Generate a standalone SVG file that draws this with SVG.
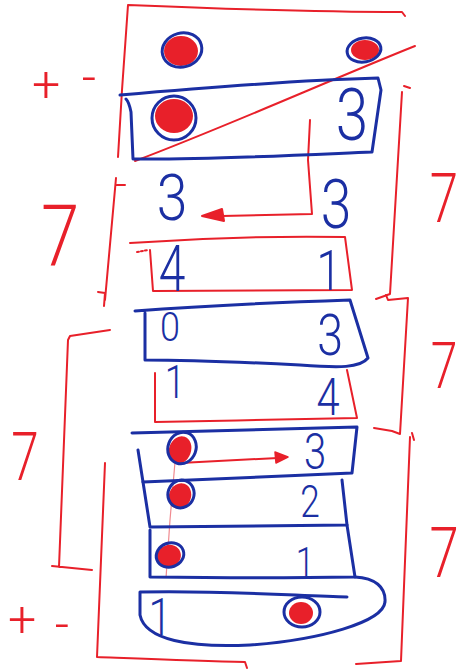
<svg xmlns="http://www.w3.org/2000/svg" width="460" height="671" viewBox="0 0 460 671">
<style>
.b{fill:none;stroke:#1b2fa3;stroke-width:3;stroke-linecap:round;stroke-linejoin:round}
.r{fill:none;stroke:#e8202a;stroke-width:2;stroke-linecap:round;stroke-linejoin:round}
.rt{fill:none;stroke:#f08a90;stroke-width:1.2}
.fill{fill:#e8202a}
.ring{fill:none;stroke:#1b2fa3;stroke-width:3}
.d{font-family:Roboto,Lato,"Open Sans","DejaVu Sans",sans-serif;font-weight:300;fill:#1b2fa3;text-anchor:middle}
.s{font-family:Roboto,Lato,"Open Sans","DejaVu Sans",sans-serif;font-weight:300;fill:#e8202a;text-anchor:middle}
</style>
<rect width="460" height="671" fill="#ffffff"/>

<g id="brackets">
<path class="r" d="M118,157 L122,90 L128,5 C200,8 300,12 402,12 L405,16"/>
<path class="r" d="M404,86 L410,88 M402,92 L390,294 L376,299"/>
<path class="r" d="M386,295 L388,300 L408,298 L400,434 L392,431 L374,428"/>
<path class="r" d="M125,185 L117,185 M116,178 L105,300 M98,292 L105,293 L104,306"/>
<path class="r" d="M110,330 L70,336 L68,340 L59,567 M52,566 L92,570"/>
<path class="r" d="M105,463 L97,657 C150,659 200,661 245,662 L247,668 M356,664 L401,661 L410,437 M412,433 L414,440"/>
<path class="r" d="M415,46 C330,80 230,125 135,161"/>
</g>

<g id="connectors">
<path class="r" d="M310,120 L308,160 L312,214 L222,216"/>
<polygon points="202,216 222,209 224,221" fill="#e8202a" stroke="#e8202a" stroke-width="2" stroke-linejoin="round"/>
<path class="r" d="M180,463 L278,458"/>
<polygon points="288,457 275,452 276,463" fill="#e8202a" stroke="#e8202a" stroke-width="1.5" stroke-linejoin="round"/>
<path class="rt" d="M175,462 L170,520 L166,578"/>
</g>

<g id="top-row">
<ellipse class="fill" cx="181" cy="51" rx="17" ry="15"/>
<ellipse class="ring" cx="182" cy="50" rx="20" ry="17" transform="rotate(-15 182 50)"/>
<ellipse class="fill" cx="365" cy="50" rx="14" ry="10"/>
<ellipse class="ring" cx="364" cy="50" rx="17" ry="12" transform="rotate(-10 364 50)"/>
</g>

<g id="row1">
<path class="b" d="M120,95 C200,88 300,80 378,78 L381,90 L372,152 C300,155 200,160 133,159 L131,112 Q129,102 126,99"/>
<ellipse class="fill" cx="174" cy="116" rx="19" ry="17"/>
<circle class="ring" cx="174" cy="118" r="22"/>
<text class="d" font-size="73" transform="translate(352,140) scale(0.8,1)">3</text>
</g>

<g id="row2">
<text class="d" font-size="65" transform="translate(172,220) scale(0.85,1)">3</text>
<text class="d" font-size="69" transform="translate(336,228) scale(0.8,1)">3</text>
</g>

<g id="row3">
<path class="r" d="M130,243 C200,238 280,236 345,237 L352,290 L153,291 L150,250"/>
<path class="r" d="M137,252 L148,250" stroke-dasharray="2 2"/>
<text class="d" font-size="64" transform="translate(172,291) scale(0.75,1)">4</text>
<text class="d" font-size="56" transform="translate(329,290) scale(0.8,1)">1</text>
</g>

<g id="row4">
<path class="b" d="M135,311 C200,306 290,302 350,300 L368,358 C360,368 340,368 300,365 C240,362 190,360 145,360 L145,313"/>
<text class="d" font-size="40" transform="translate(170,341) scale(0.9,1)">0</text>
<text class="d" font-size="58" transform="translate(330,355) scale(0.8,1)">3</text>
</g>

<g id="row5">
<path class="r" d="M155,373 L155,422 C220,421 300,419 357,418 L347,370"/>
<text class="d" font-size="46" transform="translate(175,398) scale(0.8,1)">1</text>
<text class="d" font-size="52" transform="translate(328,415) scale(0.8,1)">4</text>
</g>

<g id="row6">
<path class="b" d="M132,433 C220,430 300,428 357,427 L352,473 C280,476 200,480 143,482 L138,450"/>
<ellipse class="fill" cx="180" cy="450" rx="11" ry="14" transform="rotate(20 180 450)"/>
<ellipse class="ring" cx="182" cy="448" rx="14" ry="16" transform="rotate(20 182 448)"/>
<text class="d" font-size="50" transform="translate(315,469) scale(0.8,1)">3</text>
</g>

<g id="row7">
<path class="b" d="M143,482 L150,527 C220,526 290,525 347,525 L342,480"/>
<ellipse class="fill" cx="180" cy="496" rx="11" ry="13" transform="rotate(20 180 496)"/>
<ellipse class="ring" cx="181" cy="494" rx="13" ry="14" transform="rotate(20 181 494)"/>
<text class="d" font-size="44" transform="translate(310,517) scale(0.8,1)">2</text>
</g>

<g id="row8">
<path class="b" d="M150,530 L150,577 C220,578 300,578 355,577 L347,525"/>
<ellipse class="fill" cx="169" cy="556" rx="12" ry="11" transform="rotate(-20 169 556)"/>
<ellipse class="ring" cx="170" cy="555" rx="14" ry="12" transform="rotate(-20 170 555)"/>
<text class="d" font-size="42" transform="translate(305,577) scale(0.8,1)">1</text>
</g>

<g id="row9">
<path class="b" d="M355,577 C375,578 386,587 385,602 C383,622 320,640 250,645 C190,648 145,640 140,615 L140,592 C220,590 300,596 347,597"/>
<ellipse class="fill" cx="301" cy="613" rx="12" ry="11"/>
<ellipse class="ring" cx="302" cy="612" rx="18" ry="15"/>
<text class="d" font-size="52" transform="translate(160,635) scale(0.8,1)">1</text>
</g>

<g id="labels">
<text class="s" font-size="50" x="46" y="101">+</text>
<text class="s" font-size="50" x="89" y="94">-</text>
<text class="s" font-size="50" x="22" y="636">+</text>
<text class="s" font-size="50" x="62" y="641">-</text>
<text class="s" font-size="86" transform="translate(60,265) scale(0.8,1)">7</text>
<text class="s" font-size="68" transform="translate(444,222) scale(0.75,1)">7</text>
<text class="s" font-size="64" transform="translate(444,388) scale(0.75,1)">7</text>
<text class="s" font-size="66" transform="translate(25,480) scale(0.75,1)">7</text>
<text class="s" font-size="70" transform="translate(444,577) scale(0.75,1)">7</text>
</g>
</svg>
